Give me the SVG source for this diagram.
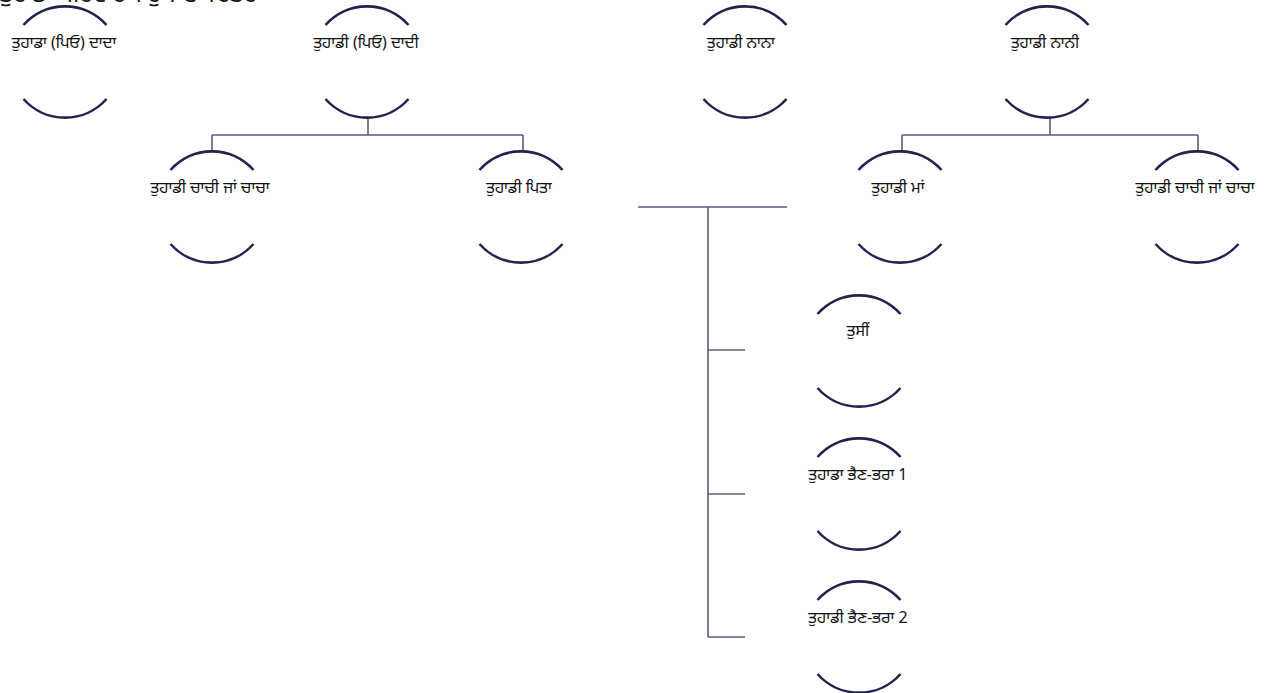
<svg xmlns="http://www.w3.org/2000/svg" xmlns:xlink="http://www.w3.org/1999/xlink" width="1265" height="693" viewBox="0 0 1265 693">
<style>
  .ring{fill:none;stroke:#22224f;stroke-width:2.6;stroke-linecap:butt}
  .lbl{font-family:"Noto Sans","Noto Sans Gurmukhi","Liberation Sans",sans-serif;font-size:16px;fill:#111;text-anchor:middle}
  .title{font-family:"Noto Sans","Noto Sans Gurmukhi","Liberation Sans",sans-serif;font-size:24px;fill:#111}
  .conn{fill:none;stroke:#5c5c80;stroke-width:1.6}
</style>
<defs>
  <g id="ring">
    <path class="ring" d="M-41.5 -37 A55.5 55.5 0 0 1 41.5 -37"/>
    <path class="ring" d="M41.5 37 A55.5 55.5 0 0 1 -41.5 37"/>
  </g>
</defs>
<rect width="1265" height="693" fill="#fff"/>
<text class="title" x="0" y="2">ਤੁਹਾਡਾ ਪਰਿਵਾਰਕ ਰੁੱਖ ਦਾ ਚਿੱਤਰ</text>
<g id="connectors">
  <path class="conn" d="M368 117V135M212 135H523M212 135V152M523 135V152"/>
  <path class="conn" d="M1050 117V135M902 135H1198M902 135V152M1198 135V152"/>
  <path class="conn" d="M638 207H787M708 207V637M708 350H745M708 494H745M708 637H745"/>
</g>
<g id="n1"><use xlink:href="#ring" x="65" y="62"/><text class="lbl" x="64" y="48">ਤੁਹਾਡਾ (ਪਿਓ) ਦਾਦਾ</text></g>
<g id="n2"><use xlink:href="#ring" x="367" y="62"/><text class="lbl" x="366" y="48">ਤੁਹਾਡੀ (ਪਿਓ) ਦਾਦੀ</text></g>
<g id="n3"><use xlink:href="#ring" x="745" y="62"/><text class="lbl" x="741" y="48">ਤੁਹਾਡੀ ਨਾਨਾ</text></g>
<g id="n4"><use xlink:href="#ring" x="1047" y="62"/><text class="lbl" x="1045" y="48">ਤੁਹਾਡੀ ਨਾਨੀ</text></g>
<g id="n5"><use xlink:href="#ring" x="212" y="207"/><text class="lbl" x="210" y="193">ਤੁਹਾਡੀ ਚਾਚੀ ਜਾਂ ਚਾਚਾ</text></g>
<g id="n6"><use xlink:href="#ring" x="521" y="207"/><text class="lbl" x="519" y="193">ਤੁਹਾਡੀ ਪਿਤਾ</text></g>
<g id="n7"><use xlink:href="#ring" x="900" y="207"/><text class="lbl" x="898" y="193">ਤੁਹਾਡੀ ਮਾਂ</text></g>
<g id="n8"><use xlink:href="#ring" x="1197" y="207"/><text class="lbl" x="1195" y="193">ਤੁਹਾਡੀ ਚਾਚੀ ਜਾਂ ਚਾਚਾ</text></g>
<g id="n9"><use xlink:href="#ring" x="859" y="351"/><text class="lbl" x="858" y="336">ਤੁਸੀਂ</text></g>
<g id="n10"><use xlink:href="#ring" x="859" y="494"/><text class="lbl" x="858" y="480">ਤੁਹਾਡਾ ਭੈਣ-ਭਰਾ 1</text></g>
<g id="n11"><use xlink:href="#ring" x="859" y="637"/><text class="lbl" x="858" y="623">ਤੁਹਾਡੀ ਭੈਣ-ਭਰਾ 2</text></g>
</svg>
